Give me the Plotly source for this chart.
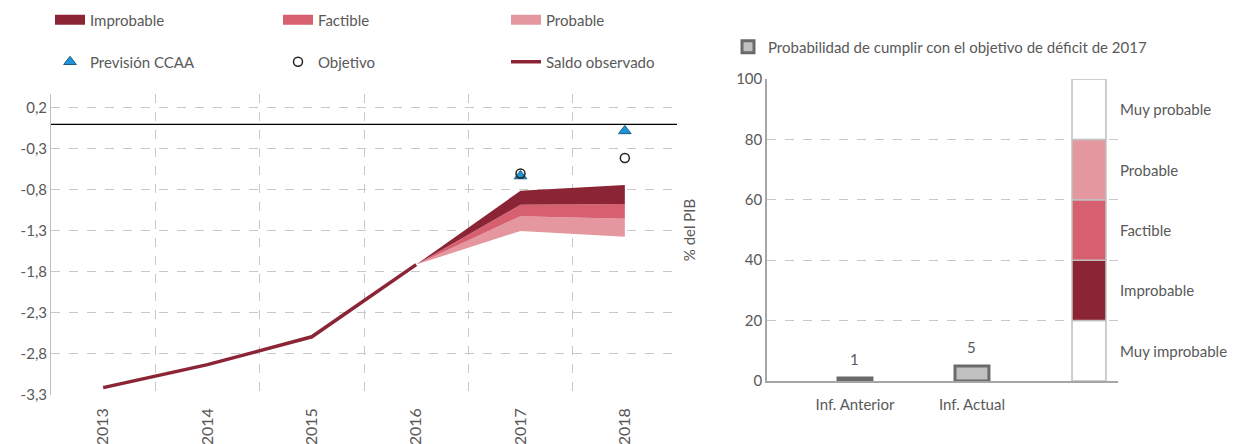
import plotly.graph_objects as go

# ---------------- data ----------------
years = ["2013", "2014", "2015", "2016", "2017", "2018"]
saldo_years = ["2013", "2014", "2015", "2016"]
saldo_observado = [-3.21, -2.93, -2.59, -1.71]

fan_years = ["2016", "2017", "2018"]
fan_bottom = [-1.71, -1.30, -1.37]
fan_probable_top = [-1.71, -1.12, -1.15]
fan_factible_top = [-1.71, -0.98, -0.97]
fan_improbable_top = [-1.71, -0.81, -0.74]

point_years = ["2017", "2018"]
prevision_ccaa = [-0.63, -0.08]
objetivo = [-0.60, -0.41]

ytick_vals = [-3.3, -2.8, -2.3, -1.8, -1.3, -0.8, -0.3, 0.2]
ytick_text = ["-3,3", "-2,8", "-2,3", "-1,8", "-1,3", "-0,8", "-0,3", "0,2"]

informes = ["Inf. Anterior", "Inf. Actual"]
probabilidad = [1, 5]
scale_cat = " "
scale_labels = ["Muy improbable", "Improbable", "Factible", "Probable", "Muy probable"]
scale_bounds = [0, 20, 40, 60, 80, 100]
right_ticks = [0, 20, 40, 60, 80, 100]

# ---------------- styles ----------------
C_IMP = "#8B2434"
C_FAC = "#D6606F"
C_PRO = "#E597A0"
C_BLUE = "#1F93D6"
TXT = "#595959"
GRID = "#C8C8C8"
FONT = "Lato"
scale_colors = ["#FFFFFF", C_IMP, C_FAC, C_PRO, "#FFFFFF"]

fig = go.Figure()

# fan chart (stacked bands)
band_names = ["Probable", "Factible", "Improbable"]
band_colors = [C_PRO, C_FAC, C_IMP]
band_tops = [fan_probable_top, fan_factible_top, fan_improbable_top]

fig.add_trace(go.Scatter(x=fan_years, y=fan_bottom, mode="lines", line=dict(width=0),
                         showlegend=False, hoverinfo="skip"))
for nm, col, top in zip(band_names, band_colors, band_tops):
    fig.add_trace(go.Scatter(x=fan_years, y=top, mode="lines", line=dict(width=0),
                             fill="tonexty", fillcolor=col, name=nm, showlegend=False))
# legend proxies (rectangular swatches)
for rank, (nm, col) in enumerate(zip(band_names, band_colors)):
    fig.add_trace(go.Scatter(x=[None], y=[None], mode="lines", line=dict(color=col, width=10),
                             name=nm, legend="legend", legendrank=3 - rank))

# observed balance
fig.add_trace(go.Scatter(x=saldo_years, y=saldo_observado, mode="lines",
                         line=dict(color=C_IMP, width=3.5), name="Saldo observado",
                         legend="legend3", legendrank=3))

# points
fig.add_trace(go.Scatter(x=point_years, y=prevision_ccaa, mode="markers",
                         marker=dict(symbol="triangle-up", size=11, color=C_BLUE,
                                     line=dict(color="#1A5E8A", width=1)),
                         name="Previsión CCAA", legend="legend3", legendrank=1))
fig.add_trace(go.Scatter(x=point_years, y=objetivo, mode="markers",
                         marker=dict(symbol="circle-open", size=9, color="#222222",
                                     line=dict(width=1.5)),
                         name="Objetivo", legend="legend3", legendrank=2))

# ---------------- right chart ----------------
fig.add_trace(go.Bar(x=informes, y=probabilidad, xaxis="x2", yaxis="y2", width=0.29,
                     marker=dict(color="#C0C0C0", line=dict(color="#6A6A6A", width=3)),
                     name="Probabilidad de cumplir con el objetivo de déficit de 2017",
                     legend="legend2"))
for i, lab in enumerate(scale_labels):
    fig.add_trace(go.Bar(x=[scale_cat], y=[scale_bounds[i + 1] - scale_bounds[i]],
                         base=[scale_bounds[i]], xaxis="x2", yaxis="y2", width=0.29,
                         marker=dict(color=scale_colors[i], line=dict(color="#BFBFBF", width=1.5)),
                         showlegend=False, hoverinfo="skip"))
    fig.add_annotation(x=scale_cat, y=(scale_bounds[i] + scale_bounds[i + 1]) / 2,
                       xref="x2", yref="y2", text=lab, showarrow=False,
                       xanchor="left", xshift=29, font=dict(size=15, color=TXT, family=FONT))

for inf, v in zip(informes, probabilidad):
    fig.add_annotation(x=inf, y=v, xref="x2", yref="y2", text=str(v), showarrow=False,
                       yanchor="bottom", yshift=8, font=dict(size=15, color=TXT, family=FONT))

# reference line at zero
fig.add_shape(type="line", xref="x domain", yref="y", x0=0, x1=1, y0=0, y1=0,
              line=dict(color="black", width=1.3))

# page body has an 8px margin, so the figure is offset by 8px
OFF = 8
W, H = 1235 - OFF, 444 - OFF
def fx(px):
    return (px - OFF) / W
def fy(py):
    return (H - (py - OFF)) / H

fig.update_layout(
    width=W, height=H,
    margin=dict(l=0, r=0, t=0, b=0, autoexpand=False),
    paper_bgcolor="white", plot_bgcolor="white",
    separators=",.",
    font=dict(family=FONT, size=14, color=TXT),
    barmode="overlay",
    xaxis=dict(domain=[fx(51), fx(677)], type="category", categoryorder="array",
               categoryarray=years, range=[-0.5, 5.5], tickson="boundaries",
               showgrid=True, gridcolor=GRID, griddash="dash", gridwidth=1,
               showline=False, ticks="", tickangle=-90, automargin=False,
               ticklabelstandoff=9,
               tickfont=dict(size=16, color=TXT), anchor="y"),
    yaxis=dict(domain=[fy(395), fy(94)], range=[-3.3, 0.37], tickvals=ytick_vals,
               ticktext=ytick_text, showgrid=True, gridcolor=GRID, griddash="dash",
               zeroline=False, showline=True, linecolor="#BFBFBF", linewidth=1,
               ticks="", tickfont=dict(size=15, color=TXT), anchor="x", automargin=False),
    xaxis2=dict(domain=[fx(767), fx(1118)], type="category", categoryorder="array",
                categoryarray=informes + [scale_cat], range=[-0.752, 2.248],
                showgrid=False, showline=True, linecolor="#A6A6A6", linewidth=1.5,
                ticks="", ticklabelstandoff=9,
                tickfont=dict(size=15, color=TXT), anchor="y2", automargin=False),
    yaxis2=dict(domain=[fy(381), fy(79)], range=[0, 100], tickvals=right_ticks,
                showgrid=True, gridcolor=GRID, griddash="dash", zeroline=False,
                showline=True, linecolor="#A6A6A6", linewidth=1.5, ticks="",
                tickfont=dict(size=15, color=TXT), anchor="x2", automargin=False,
                title=dict(text="% del PIB", font=dict(size=15, color=TXT), standoff=37)),
    legend=dict(orientation="h", x=fx(50), y=fy(20), xanchor="left", yanchor="middle",
                entrywidth=183, entrywidthmode="pixels", traceorder="normal",
                font=dict(size=15, color=TXT), bgcolor="rgba(0,0,0,0)", itemwidth=30),
    legend3=dict(orientation="h", x=fx(50), y=fy(62), xanchor="left", yanchor="middle",
                 entrywidth=183, entrywidthmode="pixels", traceorder="normal",
                 font=dict(size=15, color=TXT), bgcolor="rgba(0,0,0,0)", itemwidth=30),
    legend2=dict(orientation="h", x=fx(728), y=fy(47), xanchor="left", yanchor="middle",
                 font=dict(size=15, color=TXT), bgcolor="rgba(0,0,0,0)", itemwidth=30),
    showlegend=True,
)

fig.write_html("out.html")
